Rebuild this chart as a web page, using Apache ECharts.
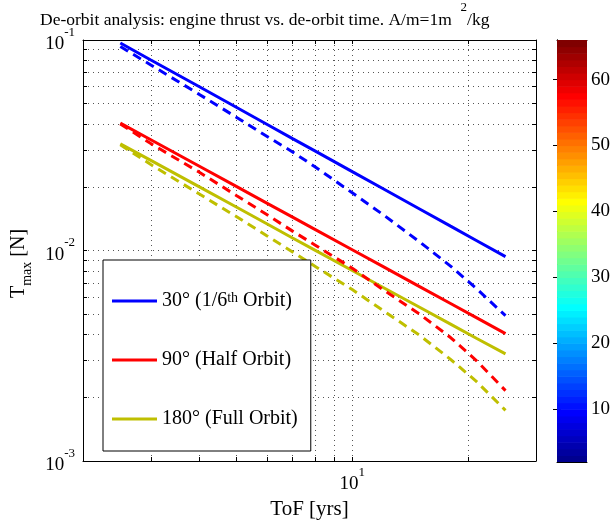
<!DOCTYPE html>
<html><head><meta charset="utf-8">
<script src="https://cdn.jsdelivr.net/npm/echarts@6/dist/echarts.min.js"></script>
<style>html,body{margin:0;padding:0;background:#fff}#c{width:615px;height:521px}</style>
</head><body><div id="c"></div>
<script>
// ---- data ----
const tof = [2.5, 3, 4, 5, 6, 7, 8, 10, 12, 15, 18, 21, 25];
const blueSolid   = [0.0968, 0.0804, 0.0601, 0.0479, 0.0398, 0.0340, 0.02974, 0.0237, 0.0197, 0.01571, 0.01305, 0.01116, 0.00935];
const blueDashed  = [0.0931, 0.0761, 0.0553, 0.0430, 0.0349, 0.0294, 0.0250, 0.0188, 0.01485, 0.01095, 0.00843, 0.0066, 0.0049];
const redSolid    = [0.0403, 0.0336, 0.0252, 0.02016, 0.0168, 0.0144, 0.0126, 0.01008, 0.0084, 0.00672, 0.0056, 0.0048, 0.00403];
const redDashed   = [0.0399, 0.0322, 0.0236, 0.01826, 0.01482, 0.01236, 0.01063, 0.00824, 0.00653, 0.00497, 0.00386, 0.0030, 0.00216];
const yelSolid    = [0.0321, 0.0268, 0.0201, 0.0161, 0.0134, 0.01147, 0.01004, 0.00803, 0.00669, 0.00536, 0.00447, 0.00383, 0.00323];
const yelDashed   = [0.0318, 0.0256, 0.0186, 0.0145, 0.01175, 0.00984, 0.00842, 0.00652, 0.0052, 0.00394, 0.00304, 0.00239, 0.00174];
const seriesNames = ['30°', '90°', '180°'];
const legendLabels = ['30° (1/6{sup|th} Orbit)', '90° (Half Orbit)', '180° (Full Orbit)'];
const xTicks = [3, 4, 5, 6, 7, 8, 9, 10, 20];
const xLabels = [10];
const yTicks = [0.001,0.002,0.003,0.004,0.005,0.006,0.007,0.008,0.009,0.01,0.02,0.03,0.04,0.05,0.06,0.07,0.08,0.09,0.1];
const yLabels = [0.001, 0.01, 0.1];
const cbTicks = [10, 20, 30, 40, 50, 60];
const cbMin = 2, cbMax = 66;

// ---- jet colormap (64) ----
function jet(m){
  const n = Math.ceil(m/4); const u = [];
  for (let i=1;i<=n;i++) u.push(i/n);
  for (let i=1;i<n;i++) u.push(1);
  for (let i=n;i>=1;i--) u.push(i/n);
  const off = Math.ceil(n/2) - (m%4===1?1:0);
  const J = Array.from({length:m}, () => [0,0,0]);
  for (let k=0;k<u.length;k++){
    const g = off+k+1, r = g+n, b = g-n;
    if (g>=1&&g<=m) J[g-1][1]=u[k];
    if (r>=1&&r<=m) J[r-1][0]=u[k];
    if (b>=1&&b<=m) J[b-1][2]=u[k];
  }
  return J.map(c => 'rgb(' + c.map(v => Math.round(v*255)).join(',') + ')');
}
const jetColors = jet(64);
const cbData = jetColors.map((c,i) => {
  const step = (cbMax-cbMin)/jetColors.length;
  return { value: [cbMin + i*step, cbMin + (i+1)*step], itemStyle: { color: c } };
});

const FONT = 'Liberation Serif';
const pair = arr => tof.map((t,i) => [t, arr[i]]);
const expFmt = v => { const e = Math.round(Math.log10(v)); return '{b|10}{e|' + e + '}'; };
const supRich = {
  b: { fontFamily: FONT, fontSize: 19, color: '#000', lineHeight: 28, verticalAlign: 'bottom' },
  e: { fontFamily: FONT, fontSize: 13, color: '#000', lineHeight: 12, verticalAlign: 'top' }
};
const dotted = { color: '#555', width: 1, type: [1, 4] };
const colors = ['#0000ff', '#ff0000', '#bfbf00'];
const solids = [blueSolid, redSolid, yelSolid];
const dashes = [blueDashed, redDashed, yelDashed];

const series = [];
for (let k=0;k<3;k++){
  series.push({ name: seriesNames[k], type: 'line', xAxisIndex: 0, yAxisIndex: 0, data: pair(solids[k]),
    symbol: 'none', smooth: false, lineStyle: { color: colors[k], width: 3 }, itemStyle: { color: colors[k] }, z: 3 });
}
for (let k=0;k<3;k++){
  series.push({ name: seriesNames[k] + ' dashed', type: 'line', xAxisIndex: 0, yAxisIndex: 0, data: pair(dashes[k]),
    symbol: 'none', lineStyle: { color: colors[k], width: 3, type: [9, 6] }, itemStyle: { color: colors[k] }, z: 3 });
}
series.push({ type: 'custom', xAxisIndex: 2, yAxisIndex: 2, data: cbData, silent: true,
  renderItem: (params, api) => {
    const p0 = api.coord([0, api.value(0)]);
    const p1 = api.coord([1, api.value(1)]);
    return { type: 'rect', shape: { x: p0[0], y: p1[1], width: p1[0]-p0[0], height: p0[1]-p1[1] + 0.6 },
      style: { fill: api.visual('color') } };
  }, clip: true });

const baseAxis = (extra) => Object.assign({
  axisLine: { show: true, lineStyle: { color: '#000', width: 1 } },
  axisTick: { show: true, inside: true, length: 4, lineStyle: { color: '#000' } },
  splitLine: { show: false }
}, extra);

const option = {
  animation: false,
  backgroundColor: '#fff',
  title: {
    text: '{t|De-orbit analysis: engine thrust vs. de-orbit time. A/m=1m  }{s|2}{t|/kg}',
    left: 35, top: -4,
    textStyle: { fontWeight: 'normal', rich: {
      t: { fontFamily: FONT, fontSize: 17.5, fontWeight: 'normal', color: '#000', lineHeight: 28, verticalAlign: 'bottom' },
      s: { fontFamily: FONT, fontSize: 13, fontWeight: 'normal', color: '#000', lineHeight: 16, verticalAlign: 'top' }
    } }
  },
  legend: {
    data: seriesNames, orient: 'vertical', left: 103, top: 260,
    icon: 'rect', itemWidth: 45, itemHeight: 3, itemGap: 39,
    padding: [31, 13, 22, 9],
    backgroundColor: '#fff', borderColor: '#000', borderWidth: 1, borderRadius: 0,
    formatter: name => legendLabels[seriesNames.indexOf(name)],
    textStyle: { fontFamily: FONT, fontSize: 20, color: '#000', rich: {
      sup: { fontFamily: FONT, fontSize: 14, color: '#000', verticalAlign: 'top', lineHeight: 12 }
    } }
  },
  grid: [
    { left: 83, top: 40, width: 453, height: 421, containLabel: false, outerBoundsMode: 'none' },
    { left: 557, top: 40, width: 30, height: 422, containLabel: false, outerBoundsMode: 'none' }
  ],
  xAxis: [
    baseAxis({ type: 'log', gridIndex: 0, position: 'bottom', min: 2, max: 30,
      axisTick: { show: true, inside: true, length: 4, customValues: xTicks, lineStyle: { color: '#000' } },
      axisLabel: { customValues: xLabels, formatter: expFmt, rich: supRich, margin: 5 },
      splitLine: { show: true, lineStyle: dotted },
      name: 'ToF [yrs]', nameLocation: 'middle', nameGap: 29,
      nameTextStyle: { fontFamily: FONT, fontSize: 21, color: '#000' } }),
    baseAxis({ type: 'log', gridIndex: 0, position: 'top', min: 2, max: 30,
      axisTick: { show: true, inside: true, length: 4, customValues: xTicks, lineStyle: { color: '#000' } },
      axisLabel: { show: false } }),
    baseAxis({ type: 'value', gridIndex: 1, position: 'bottom', min: 0, max: 1,
      axisTick: { show: false }, axisLabel: { show: false } }),
    baseAxis({ type: 'value', gridIndex: 1, position: 'top', min: 0, max: 1,
      axisTick: { show: false }, axisLabel: { show: false } })
  ],
  yAxis: [
    baseAxis({ type: 'log', gridIndex: 0, position: 'left', min: 0.001, max: 0.1,
      axisTick: { show: true, inside: true, length: 4, customValues: yTicks, lineStyle: { color: '#000' } },
      axisLabel: { customValues: yLabels, formatter: expFmt, rich: supRich, margin: 8,
        verticalAlign: 'middle' },
      splitLine: { show: true, lineStyle: dotted },
      name: '{a|T}{s|max}{a| [N]}', nameLocation: 'middle', nameGap: 48, nameRotate: 90,
      nameTextStyle: { padding: [0, 26, 0, 0], rich: {
        a: { fontFamily: FONT, fontSize: 20, color: '#000', lineHeight: 26, verticalAlign: 'top' },
        s: { fontFamily: FONT, fontSize: 14, color: '#000', lineHeight: 14, verticalAlign: 'bottom' }
      } } }),
    baseAxis({ type: 'log', gridIndex: 0, position: 'right', min: 0.001, max: 0.1,
      axisTick: { show: true, inside: true, length: 4, customValues: yTicks, lineStyle: { color: '#000' } },
      axisLabel: { show: false } }),
    baseAxis({ type: 'value', gridIndex: 1, position: 'right', min: cbMin, max: cbMax,
      axisTick: { show: true, inside: true, length: 4, customValues: cbTicks, lineStyle: { color: '#000' } },
      axisLabel: { customValues: cbTicks, fontFamily: FONT, fontSize: 19, color: '#000', margin: 4 } }),
    baseAxis({ type: 'value', gridIndex: 1, position: 'left', min: cbMin, max: cbMax,
      axisTick: { show: true, inside: true, length: 4, customValues: cbTicks, lineStyle: { color: '#000' } },
      axisLabel: { show: false } })
  ],
  series
};
const chart = echarts.init(document.getElementById('c'), null, { renderer: 'canvas' });
chart.setOption(option);
</script>
</body></html>
